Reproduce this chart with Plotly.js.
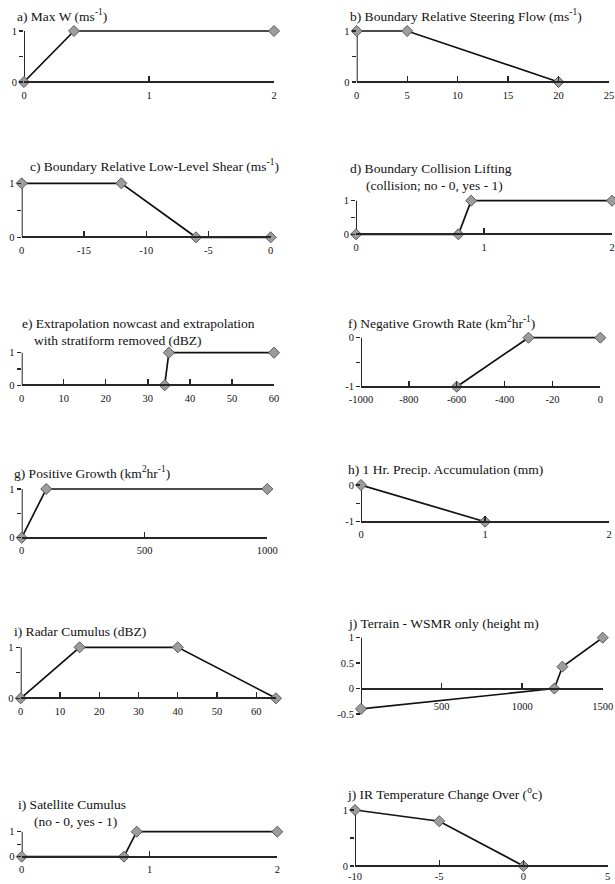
<!DOCTYPE html>
<html>
<head>
<meta charset="utf-8">
<script src="https://cdn.plot.ly/plotly-3.0.1.min.js"></script>
<style>html,body{margin:0;padding:0;background:#fff;}#chart{width:615px;height:884px;}</style>
</head>
<body>
<div id="chart"></div>
<script>
// ---------- DATA ----------
const aX = [0, 0.4, 2],            aY = [0, 1, 1];
const bX = [0, 5, 20],             bY = [1, 1, 0];
const cX = [-20, -12, -6, 0],      cY = [1, 1, 0, 0];
const dX = [0, 0.8, 0.9, 2],       dY = [0, 0, 1, 1];
const eX = [34, 35, 60],           eY = [0, 1, 1];
const fX = [-600, -300, 0],        fY = [-1, 0, 0];
const gX = [0, 100, 1000],         gY = [0, 1, 1];
const hX = [0, 1],                 hY = [0, -1];
const iX = [0, 15, 40, 65],        iY = [0, 1, 1, 0];
const jX = [0, 1200, 1250, 1500],  jY = [-0.4, 0, 0.43, 1];
const kX = [0, 0.8, 0.9, 2],       kY = [0, 0, 1, 1];
const lX = [-10, -5, 0],           lY = [1, 0.8, 0];

const aTicks = [0, 1, 2],                 aLabels = ["0", "1", "2"];
const bTicks = [0, 5, 10, 15, 20, 25],    bLabels = ["0", "5", "10", "15", "20", "25"];
const cTicks = [-20, -15, -10, -5, 0],    cLabels = ["0", "-15", "-10", "-5", "0"];
const dTicks = [0, 1, 2],                 dLabels = ["0", "1", "2"];
const eTicks = [0, 10, 20, 30, 40, 50, 60], eLabels = ["0", "10", "20", "30", "40", "50", "60"];
const fTicks = [-1000, -800, -600, -400, -200, 0], fLabels = ["-1000", "-800", "-600", "-400", "-20", "0"];
const gTicks = [0, 500, 1000],            gLabels = ["0", "500", "1000"];
const hTicks = [0, 1, 2],                 hLabels = ["0", "1", "2"];
const iTicks = [0, 10, 20, 30, 40, 50, 60], iLabels = ["0", "10", "20", "30", "40", "50", "60"];
const jTicks = [500, 1000, 1500],         jLabels = ["500", "1000", "1500"];
const kTicks = [0, 1, 2],                 kLabels = ["0", "1", "2"];
const lTicks = [-10, -5, 0, 5],           lLabels = ["-10", "-5", "0", "5"];

const yPosTicks = [0, 1],  yPosLabels = ["0", "1"],  yPosMinor = [0.5];
const yNegTicks = [-1, 0], yNegLabels = ["-1", "0"], yNegMinor = [-0.5];
const yTerTicks = [-0.5, 0, 0.5, 1], yTerLabels = ["-0.5", "0", "0.5", "1"], yTerMinor = [];

const titles = [
  ["a) Max W (ms<sup>-1</sup>)"],
  ["b) Boundary Relative Steering Flow (ms<sup>-1</sup>)"],
  ["c) Boundary Relative Low-Level Shear (ms<sup>-1</sup>)"],
  ["d) Boundary Collision Lifting", "(collision; no - 0, yes - 1)"],
  ["e) Extrapolation nowcast and extrapolation", "with stratiform removed (dBZ)"],
  ["f) Negative Growth Rate (km<sup>2</sup>hr<sup>-1</sup>)"],
  ["g) Positive Growth (km<sup>2</sup>hr<sup>-1</sup>)"],
  ["h) 1 Hr. Precip. Accumulation (mm)"],
  ["i) Radar Cumulus (dBZ)"],
  ["j) Terrain - WSMR only (height m)"],
  ["i) Satellite Cumulus", "(no - 0, yes - 1)"],
  ["j) IR Temperature Change Over (<sup>o</sup>c)"]
];

// ---------- LAYOUT GEOMETRY (pixels) ----------
const W = 615, H = 884;
const fx = p => p / W;
const fy = p => 1 - p / H;

const panels = [
  {x: aX, y: aY, xr: [0, 2],      yr: [0, 1],    xt: aTicks, xl: aLabels, yt: yPosTicks, yl: yPosLabels, ym: yPosMinor, px: [24, 274],    py: [31, 82],     title: [[15, 15]]},
  {x: bX, y: bY, xr: [0, 25],     yr: [0, 1],    xt: bTicks, xl: bLabels, yt: yPosTicks, yl: yPosLabels, ym: yPosMinor, px: [356.7, 609], py: [31, 82],     title: [[348, 15]]},
  {x: cX, y: cY, xr: [-20, 0],    yr: [0, 1],    xt: cTicks, xl: cLabels, yt: yPosTicks, yl: yPosLabels, ym: yPosMinor, px: [21.7, 270.7],py: [183.3, 237.3], title: [[28, 165]]},
  {x: dX, y: dY, xr: [0, 2],      yr: [0, 1],    xt: dTicks, xl: dLabels, yt: yPosTicks, yl: yPosLabels, ym: yPosMinor, px: [356, 612],   py: [200.7, 234.3], title: [[347.5, 168], [364, 185]]},
  {x: eX, y: eY, xr: [0, 60],     yr: [0, 1],    xt: eTicks, xl: eLabels, yt: yPosTicks, yl: yPosLabels, ym: yPosMinor, px: [21.7, 274],  py: [352.7, 385.3], title: [[20, 323.5], [31.7, 340.7]]},
  {x: fX, y: fY, xr: [-1000, 0],  yr: [-1, 0],   xt: fTicks, xl: fLabels, yt: yNegTicks, yl: yNegLabels, ym: yNegMinor, px: [361, 600.3], py: [337.7, 386.7], title: [[345.7, 322.3]]},
  {x: gX, y: gY, xr: [0, 1000],   yr: [0, 1],    xt: gTicks, xl: gLabels, yt: yPosTicks, yl: yPosLabels, ym: yPosMinor, px: [21.7, 267.3],py: [489, 537.7],   title: [[11.7, 472.3]]},
  {x: hX, y: hY, xr: [0, 2],      yr: [-1, 0],   xt: hTicks, xl: hLabels, yt: yNegTicks, yl: yNegLabels, ym: yNegMinor, px: [361, 609],   py: [485, 521.7],   title: [[345.7, 469.3]]},
  {x: iX, y: iY, xr: [0, 65],     yr: [0, 1],    xt: iTicks, xl: iLabels, yt: yPosTicks, yl: yPosLabels, ym: yPosMinor, px: [20.7, 276],  py: [647.3, 698.3], title: [[11.7, 631.7]]},
  {x: jX, y: jY, xr: [0, 1500],   yr: [-0.5, 1], xt: jTicks, xl: jLabels, yt: yTerTicks, yl: yTerLabels, ym: yTerMinor, px: [361, 602.7], py: [637.7, 714],   title: [[345.7, 623.3]], cross: 0, standoff: 8},
  {x: kX, y: kY, xr: [0, 2],      yr: [0, 1],    xt: kTicks, xl: kLabels, yt: yPosTicks, yl: yPosLabels, ym: yPosMinor, px: [21.7, 277.3],py: [831.7, 856.7], title: [[16, 804.3], [31.7, 821]]},
  {x: lX, y: lY, xr: [-10, 5],    yr: [0, 1],    xt: lTicks, xl: lLabels, yt: yPosTicks, yl: yPosLabels, ym: yPosMinor, px: [355, 607.7], py: [810, 866],     title: [[345, 793.3]], standoff: 0}
];

const FONT = "Liberation Serif";
const AXCOL = "#262626";
const PADF = 0.08;
const traces = [];
const layout = {
  width: W, height: H,
  margin: {l: 0, r: 0, t: 0, b: 0},
  paper_bgcolor: "#ffffff", plot_bgcolor: "rgba(0,0,0,0)",
  showlegend: false,
  font: {family: FONT, size: 10, color: "#111"},
  annotations: [],
  shapes: []
};

panels.forEach((p, k) => {
  const n = k + 1;
  const xa = "x" + (n === 1 ? "" : n), ya = "y" + (n === 1 ? "" : n);
  const xk = "xaxis" + (n === 1 ? "" : n), yk = "yaxis" + (n === 1 ? "" : n);
  traces.push({
    type: "scatter", mode: "lines+markers", x: p.x, y: p.y, xaxis: xa, yaxis: ya,
    cliponaxis: false,
    line: {color: "#111", width: 1.7},
    marker: {symbol: "diamond", size: 8.5, color: "#9c9c9c", line: {color: "#5a5a5a", width: 1}},
    hoverinfo: "skip"
  });
  const span = p.yr[1] - p.yr[0];
  const ppu = (p.py[1] - p.py[0]) / span;
  const pad = span * PADF;
  const yTopPx = p.py[0] - pad * ppu, yBotPx = p.py[1] + pad * ppu;
  const ydom = [fy(yBotPx), fy(yTopPx)];
  const crossVal = (p.cross !== undefined) ? p.cross : p.yr[0];
  const crossPx = p.py[1] - (crossVal - p.yr[0]) * ppu;
  layout[xk] = {
    domain: [fx(p.px[0]), fx(p.px[1])], range: p.xr, anchor: "free", position: fy(crossPx),
    showline: true, linecolor: AXCOL, linewidth: 2, showgrid: false, zeroline: false,
    tickmode: "array", tickvals: p.xt, ticktext: p.xl,
    ticks: "inside", ticklen: 5, tickwidth: 1.3, tickcolor: AXCOL,
    tickfont: {family: FONT, size: 10.5, color: "#111"}, ticklabeloverflow: "allow",
    ticklabelstandoff: (p.standoff !== undefined ? p.standoff : 3), fixedrange: true
  };
  const yAxis = {
    domain: ydom, range: [p.yr[0] - pad, p.yr[1] + pad], anchor: xa,
    showline: false, showgrid: false, zeroline: false,
    tickmode: "array", tickvals: p.yt, ticktext: p.yl,
    ticks: "outside", ticklen: 4, tickwidth: 1.3, tickcolor: AXCOL,
    tickfont: {family: FONT, size: 10.5, color: "#111"}, ticklabeloverflow: "allow",
    fixedrange: true
  };
  if (p.ym.length) {
    yAxis.minor = {tickmode: "array", tickvals: p.ym, ticks: "outside", ticklen: 4, tickwidth: 1.3, tickcolor: AXCOL, showgrid: false};
  }
  layout[yk] = yAxis;
  // y-axis line spanning exactly the labelled range
  layout.shapes.push({
    type: "line", xref: xa, yref: ya, x0: p.xr[0], x1: p.xr[0], y0: p.yr[0], y1: p.yr[1],
    line: {color: AXCOL, width: 2}, layer: "below"
  });
  p.title.forEach((pos, li) => {
    layout.annotations.push({
      text: titles[k][li], xref: "paper", yref: "paper",
      x: fx(pos[0]), y: fy(pos[1]), xanchor: "left", yanchor: "middle",
      showarrow: false, font: {family: FONT, size: 13.5, color: "#111"}
    });
  });
});

Plotly.newPlot("chart", traces, layout, {staticPlot: true, displayModeBar: false});
</script>
</body>
</html>
